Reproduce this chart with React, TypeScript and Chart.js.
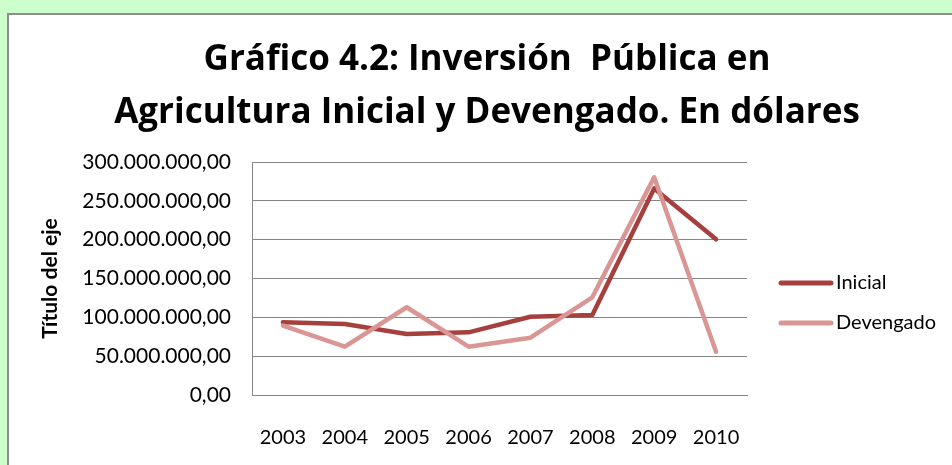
import React, { useEffect, useRef } from "react";
import { Chart, registerables } from "chart.js";

Chart.register(...registerables);

const years = ["2003", "2004", "2005", "2006", "2007", "2008", "2009", "2010"];
const inicial = [93600000, 91400000, 78500000, 80700000, 100800000, 103000000, 266000000, 200500000];
const devengado = [89300000, 62200000, 113000000, 62200000, 73800000, 125800000, 280300000, 55800000];
const titleLines = ["Gráfico 4.2: Inversión  Pública en", "Agricultura Inicial y Devengado. En dólares"];
const yAxisTitle = "Título del eje";
const seriesNames = ["Inicial", "Devengado"];
const seriesColors = ["#A6403E", "#D99694"];

const fmt = (v: number) => {
  const [i, d] = Math.abs(v).toFixed(2).split(".");
  return i.replace(/\B(?=(\d{3})+(?!\d))/g, ".") + "," + d;
};

const customLegend = {
  id: "customLegend",
  afterDraw(chart: any) {
    const { ctx, chartArea } = chart;
    const mid = (chartArea.top + chartArea.bottom) / 2;
    const n = chart.data.datasets.length;
    const gap = 40;
    ctx.save();
    chart.data.datasets.forEach((ds: any, i: number) => {
      const y = mid + 24.5 + (i - (n - 1) / 2) * gap;
      const x0 = chartArea.right + 34;
      ctx.strokeStyle = ds.borderColor;
      ctx.lineWidth = 5;
      ctx.lineCap = "round";
      ctx.beginPath();
      ctx.moveTo(x0, y);
      ctx.lineTo(x0 + 50, y);
      ctx.stroke();
      ctx.fillStyle = "#000";
      ctx.font = "20px Lato";
      ctx.textBaseline = "middle";
      ctx.textAlign = "left";
      ctx.fillText(ds.label, x0 + 55, y);
    });
    ctx.restore();
  },
};

export default function App() {
  const ref = useRef<HTMLCanvasElement | null>(null);
  useEffect(() => {
    document.body.style.margin = "0";
    const chart = new Chart(ref.current as HTMLCanvasElement, {
      type: "line",
      data: {
        labels: years,
        datasets: [
          {
            label: seriesNames[0],
            data: inicial,
            borderColor: seriesColors[0],
            backgroundColor: seriesColors[0],
            borderWidth: 4.5,
            pointRadius: 0,
            tension: 0,
            borderCapStyle: "round",
            borderJoinStyle: "round",
            order: 1,
          },
          {
            label: seriesNames[1],
            data: devengado,
            borderColor: seriesColors[1],
            backgroundColor: seriesColors[1],
            borderWidth: 4.5,
            pointRadius: 0,
            tension: 0,
            borderCapStyle: "round",
            borderJoinStyle: "round",
            order: 0,
          },
        ],
      },
      options: {
        animation: false,
        responsive: false,
        layout: { padding: { left: 22, right: 0, top: 0, bottom: 0 } },
        plugins: {
          legend: { display: false },
          tooltip: { enabled: false },
          title: {
            display: true,
            text: titleLines,
            color: "#000",
            font: { family: "Open Sans", size: 35, weight: "bold", lineHeight: 1.5 },
            padding: { top: 34, bottom: 23 },
          },
        },
        scales: {
          x: {
            offset: true,
            grid: { display: false, drawTicks: false },
            border: { display: true, color: "#868686", width: 1 },
            ticks: { color: "#000", font: { family: "Lato", size: 20 }, padding: 31, maxRotation: 0, autoSkip: false },
            afterFit: (s: any) => {
              s.height = 70;
            },
          },
          y: {
            min: 0,
            max: 300000000,
            grid: { color: "#868686", lineWidth: 1, drawTicks: false },
            border: { display: true, color: "#868686", width: 1 },
            ticks: {
              stepSize: 50000000,
              color: "#000",
              font: { family: "Lato", size: 21 },
              padding: 21,
              callback: (v: any) => fmt(Number(v)),
            },
            title: {
              display: true,
              text: yAxisTitle,
              color: "#000",
              font: { family: "Lato", size: 21, weight: "bold" },
              padding: { top: 16, bottom: 0 },
            },
            afterFit: (s: any) => {
              s.width = 230;
            },
          },
          yRight: {
            position: "right",
            display: true,
            grid: { display: false, drawTicks: false },
            border: { display: false },
            ticks: { display: false },
            afterFit: (s: any) => {
              s.width = 205;
            },
          },
        },
      },
      plugins: [customLegend],
    } as any);
    return () => chart.destroy();
  }, []);
  return (
    <div style={{ position: "relative", width: 952, height: 465, background: "#CCFFCC", overflow: "hidden" }}>
      <div
        style={{
          position: "absolute",
          left: 7,
          top: 13,
          width: 1000,
          height: 500,
          background: "#fff",
          border: "2px solid #8c8c8c",
        }}
      />
      <canvas ref={ref} width={952} height={465} style={{ position: "absolute", left: 0, top: 0 }} />
    </div>
  );
}
